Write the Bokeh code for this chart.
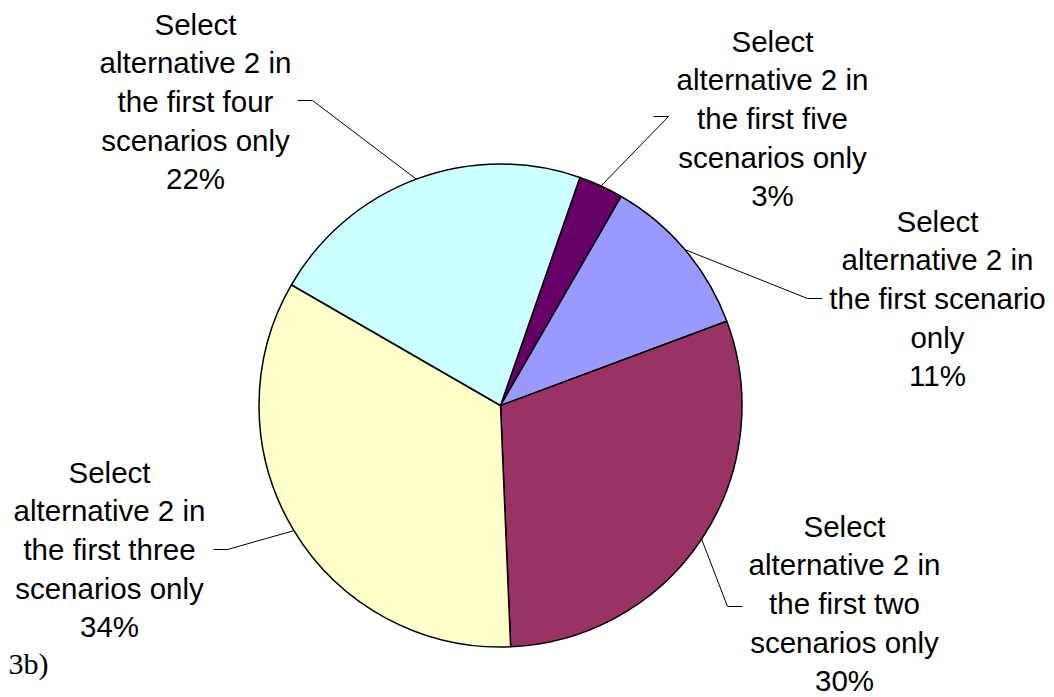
import math
from bokeh.plotting import figure
from bokeh.models import Range1d, ColumnDataSource
from bokeh.core.properties import value
from bokeh.embed import file_html
from bokeh.resources import INLINE

# ---- data ----
label_lines = [
    ["Select", "alternative 2 in", "the first five", "scenarios only"],
    ["Select", "alternative 2 in", "the first scenario", "only"],
    ["Select", "alternative 2 in", "the first two", "scenarios only"],
    ["Select", "alternative 2 in", "the first three", "scenarios only"],
    ["Select", "alternative 2 in", "the first four", "scenarios only"],
]
percentages = [3, 11, 30, 34, 22]
colors = ["#660066", "#9999FF", "#993366", "#FFFFCC", "#CCFFFF"]
panel_tag = "3b)"

# ---- layout ----
W, H = 1054, 697
CX, CY_PX, R = 500, 405, 241.5
START_CW = 19.2  # degrees clockwise from 12 o'clock
label_centers_px = [(772, 118), (937, 298), (844, 603), (109, 549), (195, 101)]
elbows_px = [(668, 116, 653), (807, 298, 822), (727, 606, 742), (227, 549, 213), (312, 100, 297)]
LINE_SP = 38.6
FONT = "Liberation Sans"
FSIZE = "29.5px"

CY = H - CY_PX

p = figure(width=W, height=H, x_range=Range1d(0, W), y_range=Range1d(0, H),
           output_backend="svg", toolbar_location=None, min_border=0)
p.axis.visible = False
p.xgrid.visible = False
p.ygrid.visible = False
p.outline_line_color = None
p.background_fill_color = "white"
p.border_fill_color = "white"

total = float(sum(percentages))
starts, ends, mids = [], [], []
a = START_CW
for v in percentages:
    span = 360.0 * v / total
    a0, a1 = a, a + span
    starts.append(math.radians(90 - a1))
    ends.append(math.radians(90 - a0))
    mids.append((a0 + a1) / 2)
    a = a1

src = ColumnDataSource(dict(start=starts, end=ends, color=colors))
p.wedge(x=CX, y=CY, radius=R, start_angle="start", end_angle="end",
        direction="anticlock", fill_color="color", line_color="black",
        line_width=1.5, source=src)

# leader lines
for m, (ex, ey, hx) in zip(mids, elbows_px):
    px = CX + R * math.sin(math.radians(m))
    py = CY + R * math.cos(math.radians(m))
    p.line([px, ex, hx], [py, H - ey, H - ey], line_color="black", line_width=1)

# labels
xs, ys, ts = [], [], []
for lines, pct, (lx, ly) in zip(label_lines, percentages, label_centers_px):
    all_lines = lines + [f"{pct}%"]
    n = len(all_lines)
    for i, t in enumerate(all_lines):
        xs.append(lx)
        ys.append(H - (ly + (i - (n - 1) / 2) * LINE_SP))
        ts.append(t)
p.text(x=xs, y=ys, text=ts, text_align="center", text_baseline="middle",
       text_font=value(FONT), text_font_size=FSIZE, text_color="black")

p.text(x=[8], y=[H - 663], text=[panel_tag], text_align="left", text_baseline="middle",
       text_font=value("Liberation Serif"), text_font_size="30px", text_color="black")

open("out.html", "w").write(file_html(p, INLINE))
